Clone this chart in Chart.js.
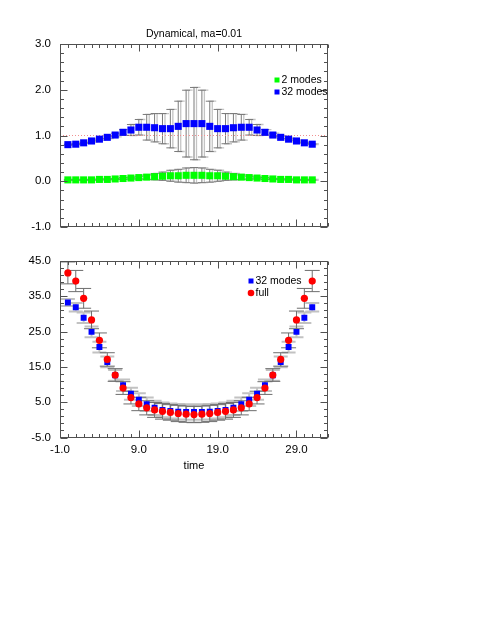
<!DOCTYPE html>
<html>
<head>
<meta charset="utf-8">
<script src="https://cdn.jsdelivr.net/npm/chart.js@4.4.1/dist/chart.umd.min.js"></script>
<style>
  html, body { margin: 0; padding: 0; background: #fff; }
  #wrap { position: relative; width: 491px; height: 635px; }
  .box { position: absolute; left: 0; width: 491px; height: 245px; }
</style>
</head>
<body>
<div id="wrap">
  <div class="box" style="top:0"><canvas id="topChart" width="491" height="245"></canvas></div>
  <div class="box" style="top:245px"><canvas id="bottomChart" width="491" height="245"></canvas></div>
</div>
<script>
const time = [0, 1, 2, 3, 4, 5, 6, 7, 8, 9, 10, 11, 12, 13, 14, 15,
  16, 17, 18, 19, 20, 21, 22, 23, 24, 25, 26, 27, 28, 29, 30, 31];

// top panel
const topTitle = "Dynamical, ma=0.01";
const modes2 = [0.03, 0.03, 0.03, 0.03, 0.04, 0.04, 0.05, 0.06, 0.07, 0.08, 0.09, 0.10, 0.11, 0.12, 0.12, 0.13,
  0.13, 0.13, 0.12, 0.12, 0.11, 0.10, 0.09, 0.08, 0.07, 0.06, 0.05, 0.04, 0.04, 0.03, 0.03, 0.03];
const modes2Err = [0.01, 0.01, 0.01, 0.01, 0.01, 0.01, 0.01, 0.02, 0.02, 0.03, 0.05, 0.07, 0.09, 0.12, 0.14, 0.16,
  0.17, 0.16, 0.14, 0.12, 0.09, 0.07, 0.05, 0.03, 0.02, 0.02, 0.01, 0.01, 0.01, 0.01, 0.01, 0.01];
const modes32Top = [0.80, 0.81, 0.84, 0.88, 0.92, 0.96, 1.01, 1.07, 1.12, 1.18, 1.18, 1.17, 1.15, 1.15, 1.20, 1.26,
  1.26, 1.26, 1.20, 1.15, 1.15, 1.17, 1.18, 1.18, 1.12, 1.07, 1.01, 0.96, 0.92, 0.88, 0.84, 0.81];
const modes32TopErr = [0.01, 0.01, 0.01, 0.02, 0.02, 0.03, 0.04, 0.06, 0.12, 0.17, 0.28, 0.31, 0.33, 0.42, 0.55, 0.73,
  0.79, 0.73, 0.55, 0.42, 0.33, 0.31, 0.28, 0.17, 0.12, 0.06, 0.04, 0.03, 0.02, 0.02, 0.01, 0.01];
const refLevel = 1.0;
const topYTicks = [-1, 0, 1, 2, 3];

// bottom panel
const modes32 = [33.2, 31.9, 28.9, 24.9, 20.6, 16.4, 12.6, 9.8, 7.4, 5.7, 4.4, 3.4, 2.8, 2.5, 2.3, 2.2,
  2.2, 2.2, 2.3, 2.5, 2.8, 3.4, 4.4, 5.7, 7.4, 9.8, 12.6, 16.4, 20.6, 24.9, 28.9, 31.9];
const modes32Err = [1.0, 1.2, 1.5, 1.5, 1.5, 1.5, 1.5, 1.6, 1.7, 1.8, 1.9, 2.0, 2.1, 2.1, 2.2, 2.2,
  2.2, 2.2, 2.2, 2.1, 2.1, 2.0, 1.9, 1.8, 1.7, 1.6, 1.5, 1.5, 1.5, 1.5, 1.5, 1.2];
const full = [41.6, 39.3, 34.4, 28.3, 22.5, 17.1, 12.7, 9.0, 6.3, 4.5, 3.4, 2.8, 2.4, 2.1, 1.8, 1.6,
  1.5, 1.6, 1.8, 2.1, 2.4, 2.8, 3.4, 4.5, 6.3, 9.0, 12.7, 17.1, 22.5, 28.3, 34.4, 39.3];
const fullErr = [3.1, 3.0, 2.8, 2.5, 2.1, 1.9, 1.8, 1.8, 1.8, 1.9, 2.0, 2.1, 2.2, 2.2, 2.3, 2.3,
  2.3, 2.3, 2.3, 2.2, 2.2, 2.1, 2.0, 1.9, 1.8, 1.8, 1.8, 1.9, 2.1, 2.5, 2.8, 3.0];
const bottomYTicks = [-5, 5, 15, 25, 35, 45];

const xTicks = [-1, 9, 19, 29];
const xLabel = "time";

const FONT = "'Liberation Sans', Arial, sans-serif";
const pts = arr => arr.map((v, i) => ({ x: time[i], y: v }));

// vertical error bars drawn through the y scale
const errorBars = {
  id: "errorBars",
  beforeDatasetsDraw(chart) {
    const ctx = chart.ctx;
    const ys = chart.scales.y;
    chart.data.datasets.forEach((ds, i) => {
      if (!ds.errors) return;
      const meta = chart.getDatasetMeta(i);
      ds.errorStyles.forEach(st => {
        ctx.save();
        ctx.strokeStyle = st.color;
        ctx.lineWidth = st.width;
        ctx.beginPath();
        meta.data.forEach((el, j) => {
          const v = ds.data[j].y, e = ds.errors[j];
          const x = el.x + st.shift;
          const yt = ys.getPixelForValue(v + e);
          const yb = ys.getPixelForValue(v - e);
          ctx.moveTo(x, yt); ctx.lineTo(x, yb);
          ctx.moveTo(x - st.cap, yt); ctx.lineTo(x + st.cap, yt);
          ctx.moveTo(x - st.cap, yb); ctx.lineTo(x + st.cap, yb);
        });
        ctx.stroke();
        ctx.restore();
      });
    });
  }
};

// box round the plot with inward ticks on all four sides
const frame = {
  id: "frame",
  afterDatasetsDraw(chart, args, opts) {
    const { ctx, chartArea: a, scales: { x, y } } = chart;
    const L = Math.round(a.left) + 0.5, R = Math.round(a.right) - 0.5;
    const T = Math.round(a.top) + 0.5, B = Math.round(a.bottom) - 0.5;
    ctx.save();
    ctx.strokeStyle = "#505050";
    ctx.lineWidth = 1;
    ctx.strokeRect(L, T, R - L, B - T);
    ctx.beginPath();
    const isMajor = (list, v) => list.some(m => Math.abs(m - v) < 1e-6);
    let n = Math.round((x.max - x.min) / opts.xMinor);
    for (let k = 0; k <= n; k++) {
      const v = x.min + k * opts.xMinor;
      const px = Math.round(x.getPixelForValue(v)) + 0.5;
      const len = isMajor(xTicks, v) ? 7 : 3.5;
      ctx.moveTo(px, B); ctx.lineTo(px, B - len);
      ctx.moveTo(px, T); ctx.lineTo(px, T + len);
    }
    n = Math.round((y.max - y.min) / opts.yMinor);
    for (let k = 0; k <= n; k++) {
      const v = y.min + k * opts.yMinor;
      const py = Math.round(y.getPixelForValue(v)) + 0.5;
      const len = isMajor(opts.yMajor, v) ? 7 : 3.5;
      ctx.moveTo(L, py); ctx.lineTo(L + len, py);
      ctx.moveTo(R, py); ctx.lineTo(R - len, py);
    }
    ctx.stroke();
    ctx.restore();
  }
};

// small legend inside the plot + optional title
const inLegend = {
  id: "inLegend",
  afterDraw(chart, args, opts) {
    const { ctx, chartArea: a } = chart;
    ctx.save();
    ctx.font = "10.5px " + FONT;
    ctx.fillStyle = "#000";
    if (opts.title) {
      ctx.textAlign = "center";
      ctx.textBaseline = "middle";
      ctx.fillText(opts.title, (a.left + a.right) / 2, opts.titleY);
    }
    opts.items.forEach((idx, r) => {
      const ds = chart.data.datasets[idx];
      const cx = opts.x, cy = opts.y + r * 12;
      ctx.fillStyle = ds.backgroundColor;
      ctx.beginPath();
      if (ds.pointStyle === "rect") ctx.rect(cx - 2.5, cy - 2.5, 5, 5);
      else ctx.arc(cx, cy, 3.3, 0, Math.PI * 2);
      ctx.fill();
      ctx.fillStyle = "#000";
      ctx.textAlign = "left";
      ctx.textBaseline = "middle";
      ctx.fillText(ds.label, cx + 4.5, cy + 0.5);
    });
    ctx.restore();
  }
};

const yAxis = (min, max, list) => ({
  min: min, max: max,
  afterBuildTicks: s => { s.ticks = list.map(v => ({ value: v })); },
  afterFit: s => { s.width = 60; },
  grid: { display: false, drawTicks: false },
  border: { display: false },
  ticks: { padding: 9, color: "#000", font: { family: FONT, size: 11.5 }, callback: v => v.toFixed(1) }
});

new Chart(document.getElementById("topChart"), {
  type: "scatter",
  data: {
    datasets: [
      {
        label: "2 modes", data: pts(modes2), errors: modes2Err,
        errorStyles: [{ color: "#c4c4c4", width: 1.3, shift: 2.5, cap: 4 }, { color: "#7a7a7a", width: 1, shift: 0, cap: 4 }],
        backgroundColor: "#00ff00", pointStyle: "rect", pointRadius: 5, pointBorderWidth: 0, order: 0
      },
      {
        label: "32 modes", data: pts(modes32Top), errors: modes32TopErr,
        errorStyles: [{ color: "#c4c4c4", width: 1.3, shift: 2.5, cap: 4 }, { color: "#7a7a7a", width: 1, shift: 0, cap: 4 }],
        backgroundColor: "#0000ff", pointStyle: "rect", pointRadius: 5, pointBorderWidth: 0, order: 1
      },
      {
        label: "", data: [{ x: -1, y: refLevel }, { x: 33, y: refLevel }],
        showLine: true, pointRadius: 0, borderColor: "#f09090", borderDash: [1, 2], borderWidth: 1, order: 2
      }
    ]
  },
  options: {
    responsive: false,
    animation: false,
    layout: { padding: { top: 44, right: 163, bottom: 18, left: 0 } },
    scales: {
      x: { type: "linear", min: -1, max: 33, display: false },
      y: yAxis(-1, 3, topYTicks)
    },
    plugins: {
      legend: { display: false },
      tooltip: { enabled: false },
      frame: { xMinor: 1, yMinor: 0.2, yMajor: topYTicks },
      inLegend: { title: topTitle, titleY: 34, items: [0, 1], x: 277, y: 80 }
    }
  },
  plugins: [errorBars, frame, inLegend]
});

new Chart(document.getElementById("bottomChart"), {
  type: "scatter",
  data: {
    datasets: [
      {
        label: "32 modes", data: pts(modes32), errors: modes32Err,
        errorStyles: [{ color: "#c2c2c2", width: 2, shift: 0, cap: 7 }],
        backgroundColor: "#0000ff", pointStyle: "rect", pointRadius: 4.2, pointBorderWidth: 0, order: 1
      },
      {
        label: "full", data: pts(full), errors: fullErr,
        errorStyles: [{ color: "#6e6e6e", width: 1, shift: 0, cap: 7.5 }],
        backgroundColor: "#ff0000", pointStyle: "circle", pointRadius: 3.6, pointBorderWidth: 0, order: 0
      }
    ]
  },
  options: {
    responsive: false,
    animation: false,
    layout: { padding: { top: 11.5, right: 163, bottom: 17.4, left: 0 } },
    scales: {
      x: {
        type: "linear", min: -1, max: 33,
        afterBuildTicks: s => { s.ticks = xTicks.map(v => ({ value: v })); },
        afterFit: s => { s.height = 35.1; },
        grid: { display: false, drawTicks: false },
        border: { display: false },
        ticks: { padding: 5, maxRotation: 0, color: "#000", font: { family: FONT, size: 11.5 }, callback: v => v.toFixed(1) },
        title: { display: true, text: xLabel, color: "#000", font: { family: FONT, size: 11 }, padding: { top: 0, bottom: 0 } }
      },
      y: yAxis(-5, 45, bottomYTicks)
    },
    plugins: {
      legend: { display: false },
      tooltip: { enabled: false },
      frame: { xMinor: 1, yMinor: 2, yMajor: bottomYTicks },
      inLegend: { items: [0, 1], x: 251, y: 36 }
    }
  },
  plugins: [errorBars, frame, inLegend]
});
</script>
</body>
</html>
